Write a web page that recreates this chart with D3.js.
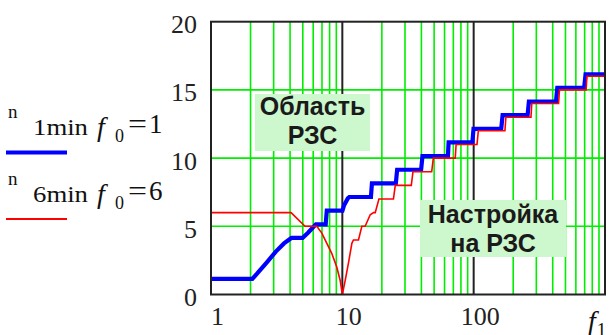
<!DOCTYPE html>
<html>
<head>
<meta charset="utf-8">
<script src="https://cdn.jsdelivr.net/npm/d3@7/dist/d3.min.js"></script>
<style>
  html, body { margin: 0; padding: 0; background: #fff; }
  svg { display: block; }
</style>
</head>
<body>
<svg id="chart" width="613" height="335"></svg>
<script>
// Axis settings
const xDomain = [1, 1000];
const yDomain = [0, 20];
const xTickValues = [1, 10, 100];
const yTickValues = [0, 5, 10, 15, 20];
const yGridValues = [5, 10, 15];

// n_1min for f0 = 1: frequency f1 and minimal number n
const n1minF = [1, 2.1, 2.29, 2.73, 3.17, 3.66, 4.17, 5.07, 5.6, 6.4, 7.6, 7.75, 10.2, 10.5, 11.2, 11.5,
  16.8, 17.1, 26, 26.6, 40.5, 41.5, 64.8, 65.6, 99.5, 101.5, 165, 169, 262, 268, 431, 441, 706, 724, 1000];
const n1minN = [1, 1, 1.4, 2.25, 3.0, 3.6, 4, 4, 4.4, 5, 5, 6, 6, 6.4, 6.9, 7,
  7, 8, 8, 9, 9, 10, 10, 11, 11, 12, 12, 13, 13, 14, 14, 15, 15, 16, 16];

// n_6min for f0 = 6
const n6minF = [1, 4.07, 5.2, 6.39, 6.98, 7.62, 8.32, 9.08, 9.62, 10, 10.5, 11.13, 11.82, 12.15, 13.27,
  14.08, 14.92, 16.3, 17.27, 17.8, 19.0, 24.5, 25.3, 33.5, 34.5, 47.9, 49.3, 72.4, 73.5, 106, 108.5,
  173, 176, 273, 277, 443, 450, 718, 728, 1000];
const n6minN = [6, 6, 5, 5, 4.5, 3.75, 3.0, 2.0, 1.05, 0, 1.0, 2.3, 3.75, 4, 4,
  5, 5, 5.85, 6, 6, 7, 7, 8, 8, 9, 9, 10, 10, 11, 11, 12,
  12, 13, 13, 14, 14, 15, 15, 16, 16];

// Annotation labels
const noteRegion = ["Область", "РЗС"];
const noteTuning = ["Настройка", "на РЗС"];

const SERIF = "'Liberation Serif', 'DejaVu Serif', serif";
const SANS = "'Liberation Sans', Arial, sans-serif";

const svg = d3.select("#chart");
const plot = { left: 211, right: 605, top: 21.7, bottom: 294.5 };

const x = d3.scaleLog().domain(xDomain).range([plot.left, plot.right]);
const y = d3.scaleLinear().domain(yDomain).range([plot.bottom, plot.top]);

// Minor log grid (2..9 of every decade)
const minor = [];
for (const d of [1, 10, 100]) for (let k = 2; k <= 9; k++) minor.push(d * k);

const grid = svg.append("g");
grid.selectAll("line.vminor").data(minor).join("line")
  .attr("x1", d => x(d)).attr("x2", d => x(d))
  .attr("y1", plot.top).attr("y2", plot.bottom)
  .attr("stroke", "#00ee00").attr("stroke-width", 1.6);
grid.selectAll("line.h").data(yGridValues).join("line")
  .attr("x1", plot.left).attr("x2", plot.right)
  .attr("y1", d => y(d)).attr("y2", d => y(d))
  .attr("stroke", "#00ee00").attr("stroke-width", 1.6);
grid.selectAll("line.vmajor").data([10, 100]).join("line")
  .attr("x1", d => x(d)).attr("x2", d => x(d))
  .attr("y1", plot.top).attr("y2", plot.bottom)
  .attr("stroke", "#222").attr("stroke-width", 2);

// Annotation boxes
function note(lines, cx, baseline, box) {
  const g = svg.append("g");
  g.append("rect").attr("x", box[0]).attr("y", box[1]).attr("width", box[2]).attr("height", box[3])
    .attr("fill", "#cdf7cd");
  g.selectAll("text").data(lines).join("text")
    .attr("x", cx).attr("y", (d, i) => baseline + i * 29)
    .attr("text-anchor", "middle")
    .style("font-family", SANS)
    .style("font-weight", "bold").style("font-size", "25px").attr("fill", "#1a1a1a")
    .text(d => d);
}
note(noteRegion, 312.5, 115, [255, 94, 115, 57]);
note(noteTuning, 493, 223, [420, 200, 146, 57]);

// Curves
const line = d3.line().x(d => x(d[0])).y(d => y(d[1]));
const blueData = d3.zip(n1minF, n1minN);
const redData = d3.zip(n6minF, n6minN);

svg.append("path").datum(blueData).attr("d", line)
  .attr("fill", "none").attr("stroke", "#0000ff").attr("stroke-width", 4.2)
  .attr("stroke-linejoin", "miter").attr("transform", "translate(-1,-2)");
svg.append("path").datum(redData).attr("d", line)
  .attr("fill", "none").attr("stroke", "#ff0000").attr("stroke-width", 1.6);

// Frame
svg.append("rect").attr("x", plot.left).attr("y", plot.top)
  .attr("width", plot.right - plot.left).attr("height", plot.bottom - plot.top)
  .attr("fill", "none").attr("stroke", "#222").attr("stroke-width", 2);

// Axes
const yAxis = svg.append("g").attr("transform", `translate(${plot.left},0)`)
  .call(d3.axisLeft(y).tickValues(yTickValues).tickSize(0).tickPadding(14).tickFormat(d3.format("d")));
yAxis.select(".domain").remove();
yAxis.selectAll("text").attr("dy", "0.42em");

const xAxis = svg.append("g").attr("transform", `translate(0,${plot.bottom})`)
  .call(d3.axisBottom(x).tickValues(xTickValues).tickSize(0).tickPadding(12).tickFormat(d3.format("d")));
xAxis.select(".domain").remove();
xAxis.selectAll("text").attr("dx", 6);

svg.selectAll(".tick text")
  .style("font-family", SERIF).style("font-size", "26px").attr("fill", "#222");

// x-axis title f1
const xt = svg.append("text").attr("x", 588).attr("y", 330)
  .style("font-family", SERIF).style("font-size", "28px").attr("fill", "#111");
xt.append("tspan").style("font-style", "italic").text("f");
xt.append("tspan").style("font-size", "19px").attr("dy", 6).attr("dx", 1).text("1");

// Legend
function legendEntry(idx, eq, color, width, dyOff) {
  const g = svg.append("g").attr("transform", `translate(0,${dyOff})`).attr("fill", "#111")
    .style("font-family", SERIF);
  g.append("text").attr("x", 8).attr("y", 118).style("font-size", "19px").text("n");
  g.append("text").attr("x", 33).attr("y", 135).style("font-size", "23px")
    .attr("textLength", 55).attr("lengthAdjust", "spacingAndGlyphs").text(idx + "min");
  g.append("text").attr("x", 97).attr("y", 136).style("font-size", "28px").style("font-style", "italic").text("f");
  g.append("text").attr("x", 115).attr("y", 142).style("font-size", "18px").text("0");
  g.append("text").attr("x", 128).attr("y", 133).style("font-size", "27px")
    .attr("textLength", 19).attr("lengthAdjust", "spacingAndGlyphs").text("=");
  g.append("text").attr("x", 149).attr("y", 133).style("font-size", "27px").text(eq);
  g.append("line").attr("x1", 6).attr("x2", 67).attr("y1", 152.5).attr("y2", 152.5)
    .attr("stroke", color).attr("stroke-width", width);
}
legendEntry("1", "1", "#0000ff", 4, 0);
legendEntry("6", "6", "#ff0000", 2, 66.5);
</script>
</body>
</html>
